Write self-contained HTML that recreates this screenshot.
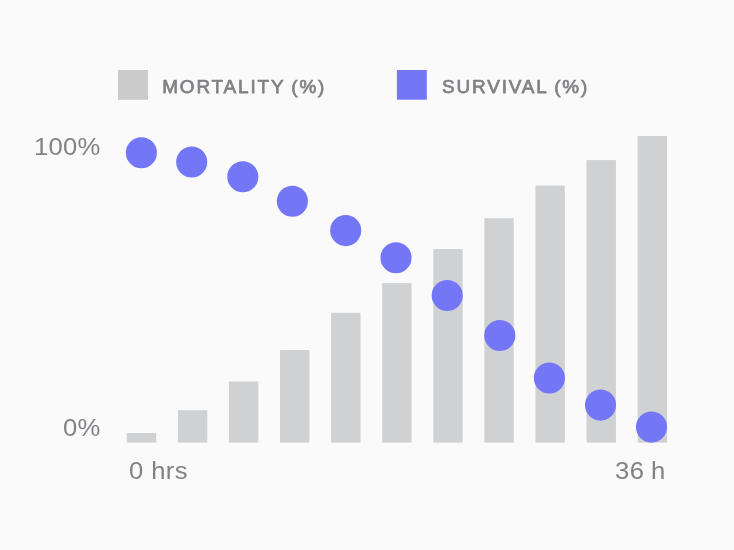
<!DOCTYPE html>
<html><head><meta charset="utf-8"><title>Mortality vs Survival</title>
<style>
html,body{margin:0;padding:0;}
body{width:734px;height:550px;background:#fafafa;position:relative;overflow:hidden;font-family:"Liberation Sans",sans-serif;}
.t{position:absolute;color:#808285;white-space:nowrap;line-height:1;}
.ax{font-size:23.1px;transform:scaleX(1.11);transform-origin:0 0;}
.lg{font-size:18.9px;-webkit-text-stroke:0.75px #808285;letter-spacing:1.88px;word-spacing:-1px;}
</style></head><body>
<svg width="734" height="550" viewBox="0 0 734 550" style="position:absolute;left:0;top:0">
<rect x="126.80" y="433.0" width="29.4" height="9.6" fill="#d0d1d3"/>
<rect x="177.88" y="410.2" width="29.4" height="32.4" fill="#d0d1d3"/>
<rect x="228.96" y="381.5" width="29.4" height="61.1" fill="#d0d1d3"/>
<rect x="280.04" y="350.0" width="29.4" height="92.6" fill="#d0d1d3"/>
<rect x="331.12" y="312.8" width="29.4" height="129.8" fill="#d0d1d3"/>
<rect x="382.20" y="283.1" width="29.4" height="159.5" fill="#d0d1d3"/>
<rect x="433.28" y="249.0" width="29.4" height="193.6" fill="#d0d1d3"/>
<rect x="484.36" y="218.2" width="29.4" height="224.4" fill="#d0d1d3"/>
<rect x="535.44" y="185.5" width="29.4" height="257.1" fill="#d0d1d3"/>
<rect x="586.52" y="160.1" width="29.4" height="282.5" fill="#d0d1d3"/>
<rect x="637.60" y="136.0" width="29.4" height="306.6" fill="#d0d1d3"/>
<circle cx="141.4" cy="152.7" r="15.55" fill="#7377f5"/>
<circle cx="191.7" cy="162.0" r="15.55" fill="#7377f5"/>
<circle cx="242.8" cy="176.7" r="15.55" fill="#7377f5"/>
<circle cx="292.4" cy="201.3" r="15.55" fill="#7377f5"/>
<circle cx="345.7" cy="230.6" r="15.55" fill="#7377f5"/>
<circle cx="396.0" cy="257.7" r="15.55" fill="#7377f5"/>
<circle cx="447.2" cy="295.5" r="15.55" fill="#7377f5"/>
<circle cx="499.8" cy="335.5" r="15.55" fill="#7377f5"/>
<circle cx="549.4" cy="378.0" r="15.55" fill="#7377f5"/>
<circle cx="600.5" cy="405.1" r="15.55" fill="#7377f5"/>
<circle cx="651.5" cy="427.1" r="15.55" fill="#7377f5"/>
<rect x="118" y="70" width="30" height="29.8" fill="#cbcbcb"/>
<rect x="396.9" y="70" width="29.9" height="29.7" fill="#7377f5"/>
</svg>
<div class="t lg" id="lg1" style="left:162.2px;top:78.1px">MORTALITY (%)</div>
<div class="t lg" id="lg2" style="left:442px;top:78.1px">SURVIVAL (%)</div>
<div class="t ax" id="a1" style="left:34.3px;top:135.95px;letter-spacing:0.21px">100%</div>
<div class="t ax" id="a2" style="left:63.0px;top:416.75px;letter-spacing:0.3px">0%</div>
<div class="t ax" id="a3" style="left:128.60px;top:459.85px;letter-spacing:0.34px">0 hrs</div>
<div class="t ax" id="a4" style="left:614.6px;top:459.85px;letter-spacing:0.40px;word-spacing:-0.8px">36 h</div>
</body></html>
